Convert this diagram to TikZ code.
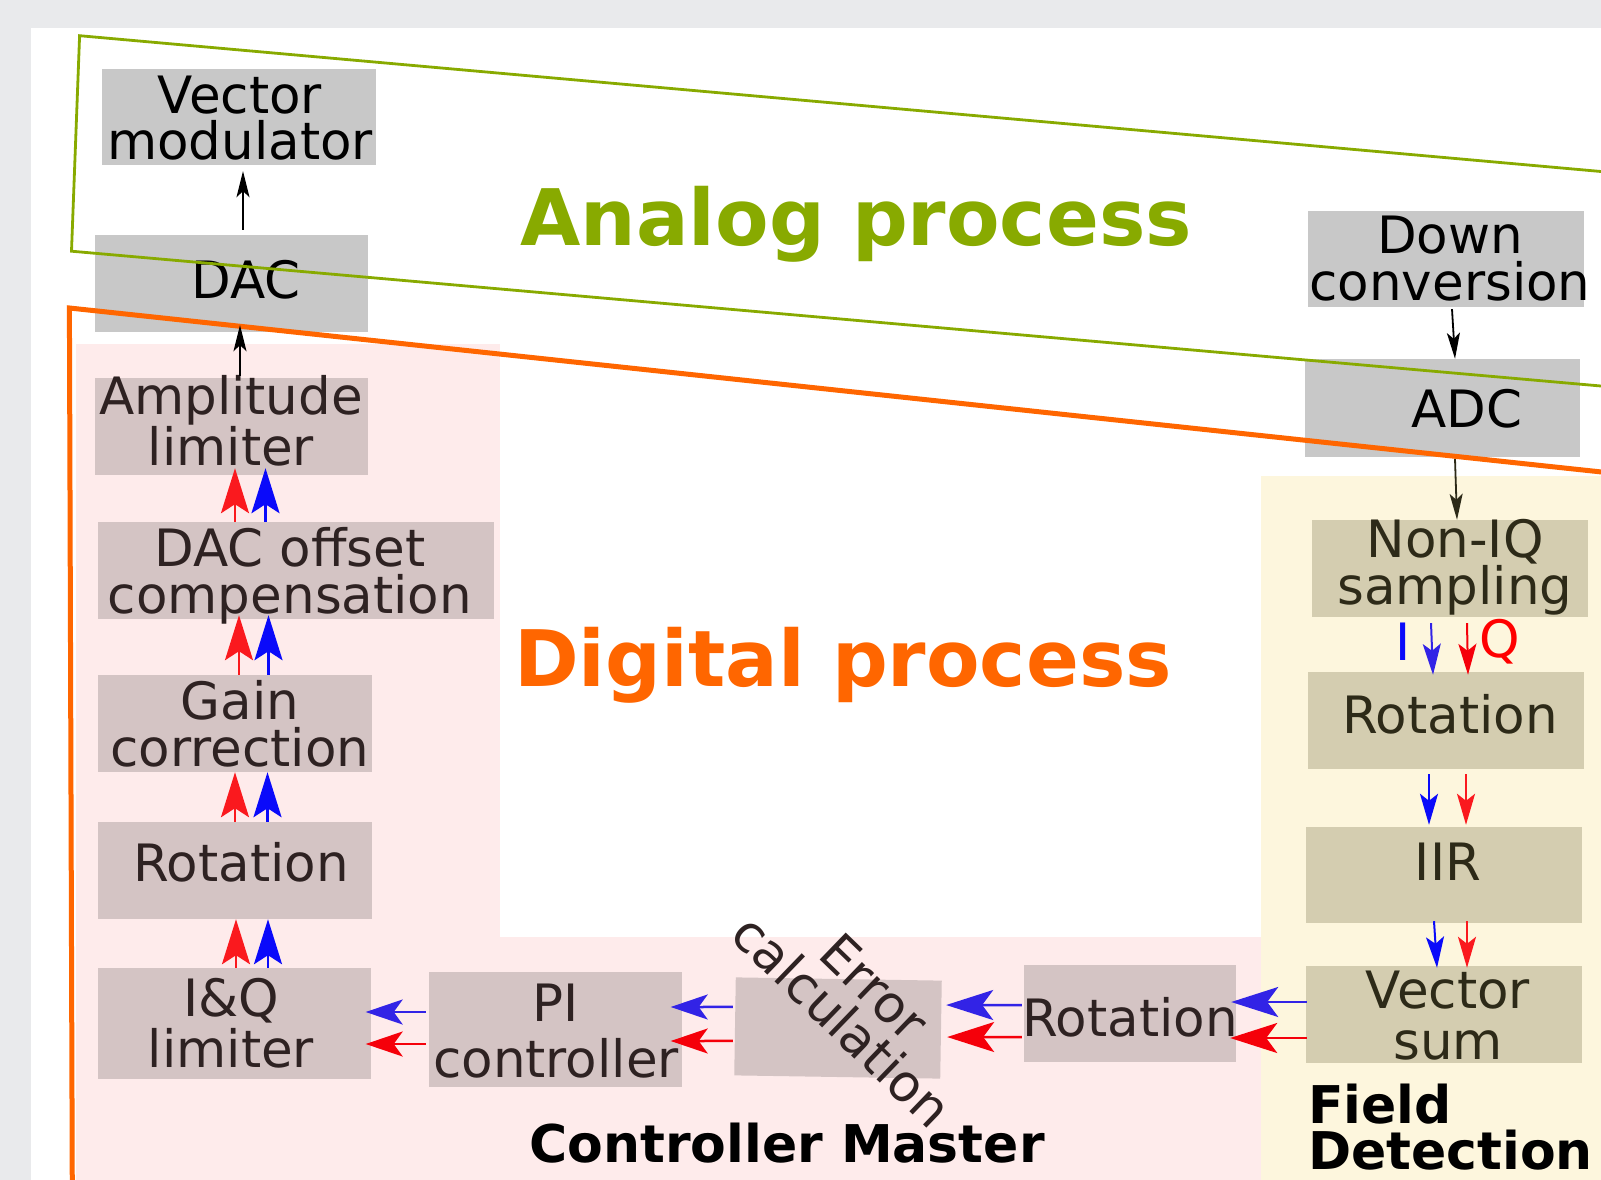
\documentclass[tikz,border=0pt]{standalone}
\usepackage{fontspec}
\setmainfont{DejaVu Sans}
\usetikzlibrary{arrows.meta,fit,calc}
\definecolor{bggray}{HTML}{E9EAEC}
\definecolor{regpink}{HTML}{FEEBEB}
\definecolor{regyellow}{HTML}{FDF6DD}
\definecolor{boxgray}{HTML}{C8C8C8}
\definecolor{boxpink}{HTML}{D4C4C4}
\definecolor{boxtan}{HTML}{D4CDB0}
\definecolor{txtpink}{HTML}{2E2222}
\definecolor{txttan}{HTML}{2D2A18}
\definecolor{anagreen}{HTML}{88AA00}
\definecolor{digorange}{HTML}{FF6600}
\definecolor{sigred}{RGB}{250,25,30}
\definecolor{sigblue}{RGB}{10,10,250}
\definecolor{hred}{RGB}{245,0,10}
\definecolor{hblue}{RGB}{50,35,230}
\begin{document}
\begin{tikzpicture}[x=1pt,y=-1pt,
  gbox/.style={fill=boxgray,draw=none,inner sep=0pt},
  pbox/.style={fill=boxpink,draw=none,inner sep=0pt},
  tbox/.style={fill=boxtan,draw=none,inner sep=0pt},
  lbl/.style={font=\fontsize{51.5}{47}\selectfont,align=center,inner sep=0pt,anchor=base},
  wide/.style={font=\fontsize{51.5}{#1}\selectfont},
  title/.style={font=\fontsize{78}{80}\bfseries\selectfont,inner sep=0pt,anchor=base},
  sect/.style={font=\fontsize{52}{46}\bfseries\selectfont,inner sep=0pt},
  blk/.style={-{Stealth[length=26pt,width=13pt,inset=6pt]},line width=1.8pt},
  vbig/.style={-{Stealth[length=45pt,width=28pt,inset=9pt]},line width=2.5pt},
  vsmall/.style={-{Stealth[length=31pt,width=18pt,inset=7pt]},line width=2pt},
  hbig/.style={-{Stealth[length=47pt,width=30pt,inset=11pt]},line width=2.5pt},
  hmid/.style={-{Stealth[length=37pt,width=25pt,inset=9pt]},line width=2.5pt}]

\useasboundingbox (0,0) rectangle (1601,1180);
\clip (0,0) rectangle (1601,1180);

% page and regions
\fill[bggray] (0,0) rectangle (1601,1180);
\fill[white] (31,28) rectangle (1601,1180);
\fill[regpink] (76,344) rectangle (500,937);
\fill[regpink] (76,937) rectangle (1261,1180);
\fill[regyellow] (1261,476) rectangle (1601,1180);

% analog blocks
\node[gbox,fit={(102,69) (376,165)}] (vm) {};
\node[gbox,fit={(95,235) (368,332)}] (dac) {};
\node[gbox,fit={(1308,211) (1584,307)}] (dconv) {};
\node[gbox,fit={(1305,359) (1580,457)}] (adc) {};

% controller master blocks
\node[pbox,fit={(95,378) (368,475)}] (amp) {};
\node[pbox,fit={(98,522) (494,619)}] (doff) {};
\node[pbox,fit={(98,675) (372,772)}] (gain) {};
\node[pbox,fit={(98,822) (372,919)}] (rotl) {};
\node[pbox,fit={(98,968) (371,1079)}] (iq) {};
\node[pbox,fit={(429,972) (682,1087)}] (pi) {};
\node[pbox,minimum width=206pt,minimum height=98pt,rotate=-0.9] (err) at (838,1028) {};
\node[pbox,fit={(1024,965) (1236,1062)}] (rotm) {};

% field detection blocks
\node[tbox,fit={(1312,520) (1588,617)}] (niq) {};
\node[tbox,fit={(1308,672) (1584,769)}] (rotr) {};
\node[tbox,fit={(1306,827) (1582,923)}] (iir) {};
\node[tbox,fit={(1306,966) (1582,1063)}] (vs) {};

% block captions (anchored on the baseline of the last line)
\node[lbl,text=black] (tvm) at (240,160) {Vector\\modulator};
\node[lbl,text=black] (tdac) at (246,298) {DAC};
\node[lbl,text=black] (tdconv) at (1450,300) {Down\\conversion};
\node[lbl,text=black] (tadc) at (1467,427) {ADC};
\node[lbl,text=txtpink] (tamp) at (231,465) {Amplitude\\limiter};
\node[lbl,text=txtpink] (tdoff) at (290,613) {DAC offset\\compensation};
\node[lbl,text=txtpink] (tgain) at (240,766) {Gain\\correction};
\node[lbl,text=txtpink] (trotl) at (241,881) {Rotation};
\node[lbl,wide=51,text=txtpink] (tiq) at (231,1067) {I\&Q\\limiter};
\node[lbl,wide=56,text=txtpink] (tpi) at (556,1077) {PI\\controller};
\node[font=\fontsize{51.5}{47}\selectfont,align=center,inner sep=0pt,text=txtpink,rotate=-44] (terr) at (858,1004) {Error\\calculation};
\node[lbl,text=txtpink] (trotm) at (1130,1036) {Rotation};
\node[lbl,text=txttan] (tniq) at (1455,604) {Non-IQ\\sampling};
\node[lbl,text=txttan] (trotr) at (1450,733) {Rotation};
\node[lbl,text=txttan] (tiir) at (1448,880) {IIR};
\node[lbl,wide=51,text=txttan] (tvs) at (1448,1059) {Vector\\sum};
\node[lbl,text=sigblue] (tI) at (1403,660) {I};
\node[lbl,text=red] (tQ) at (1500,657) {Q};

% section titles
\node[title,text=anagreen] (tana) at (856,245) {Analog process};
\node[title,text=digorange] (tdig) at (843,686) {Digital process};
\node[sect,anchor=base] (tcm) at (787,1162) {Controller Master};
\node[sect,align=left,anchor=base west] (tfd) at (1308,1169) {Field\\Detection};

% process boundaries
\draw[anagreen,line width=2.8pt,line join=miter]
  (1611,172.4) -- (79.6,35.7) -- (71.5,251.2) -- (1611,386.9);
\draw[digorange,line width=5pt,line join=miter]
  (72.3,1190) -- (69.4,308) -- (1611,473);

% analog signal path
\draw[blk] ([shift={(11.5,-5)}]dac.north) -- ([shift={(4,6)}]vm.south);
\draw[blk] ([shift={(8.5,-2)}]amp.north) -- ([shift={(8.5,-7)}]dac.south);
\draw[blk] ([shift={(6,2)}]dconv.south) -- ([shift={(12.5,0)}]adc.north);
\draw[blk,txttan] ([shift={(12.5,2)}]adc.south) -- ([shift={(7,0)}]niq.north);

% I/Q paths up the left column
\draw[vbig,sigred] ([shift={(1.5,0)}]iq.north) -- ([shift={(1,0)}]rotl.south);
\draw[vbig,sigblue] ([shift={(33.5,0)}]iq.north) -- ([shift={(33,0)}]rotl.south);
\draw[vbig,sigred] (rotl.north) -- (gain.south);
\draw[vbig,sigblue] ([shift={(32.5,0)}]rotl.north) -- ([shift={(32.5,0)}]gain.south);
\draw[vbig,sigred] ([shift={(4,0)}]gain.north) -- ([shift={(-57,-4)}]doff.south);
\draw[vbig,sigblue] ([shift={(33.5,0)}]gain.north) -- ([shift={(-27.5,-4)}]doff.south);
\draw[vbig,sigred] ([shift={(-61,0)}]doff.north) -- ([shift={(3.5,-7)}]amp.south);
\draw[vbig,sigblue] ([shift={(-30.5,0)}]doff.north) -- ([shift={(34,-7)}]amp.south);

% I/Q paths down the field detection column
\draw[vsmall,hblue] ([shift={(-19,6)}]niq.south) -- ([shift={(-13,3)}]rotr.north);
\draw[vsmall,hred] ([shift={(17,6)}]niq.south) -- ([shift={(22,3)}]rotr.north);
\draw[vsmall,sigblue] ([shift={(-17,5)}]rotr.south) -- ([shift={(-15,-2)}]iir.north);
\draw[vsmall,sigred] ([shift={(20,5)}]rotr.south) -- ([shift={(22,-2)}]iir.north);
\draw[vsmall,sigblue] ([shift={(-10,-2)}]iir.south) -- ([shift={(-7,2)}]vs.north);
\draw[vsmall,sigred] ([shift={(23,-2)}]iir.south) -- ([shift={(23,2)}]vs.north);

% I/Q paths back through the controller
\draw[hbig,hblue] ([shift={(1,-12.5)}]vs.west) -- ([shift={(-5,-11.5)}]rotm.east);
\draw[hbig,hred] ([shift={(1,23.5)}]vs.west) -- ([shift={(-6,24.5)}]rotm.east);
\draw[hbig,hblue] ([shift={(-2,-8.5)}]rotm.west) -- ([shift={(5,-24.6)}]err.east);
\draw[hbig,hred] ([shift={(-2,23.5)}]rotm.west) -- ([shift={(6,7.4)}]err.east);
\draw[hmid,hblue] ([shift={(-2,-19.4)}]err.west) -- ([shift={(-11.5,-22.5)}]pi.east);
\draw[hmid,hred] ([shift={(-2,14.6)}]err.west) -- ([shift={(-11.5,11.5)}]pi.east);
\draw[hmid,hblue] ([shift={(-3,-17.5)}]pi.west) -- ([shift={(-5.5,-11.5)}]iq.east);
\draw[hmid,hred] ([shift={(-3,14.5)}]pi.west) -- ([shift={(-5.5,20.5)}]iq.east);
\end{tikzpicture}
\end{document}
